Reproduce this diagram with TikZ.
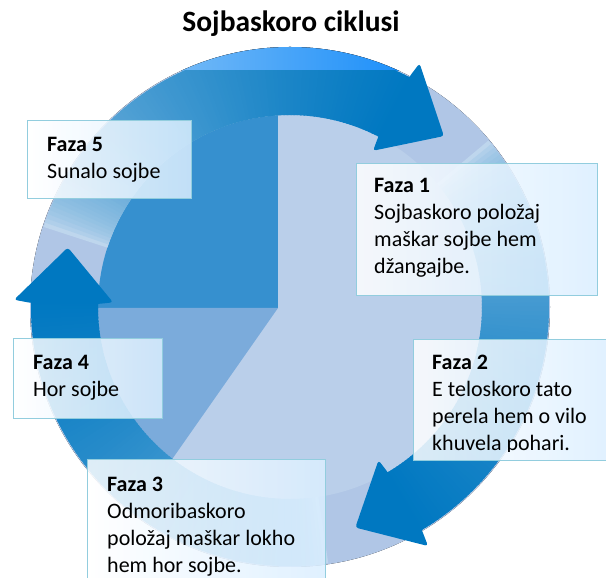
\documentclass[tikz,border=0pt]{standalone}
\usepackage{fontspec}
\setmainfont{Carlito}
\usetikzlibrary{calc}
\definecolor{arrowblue}{RGB}{0,120,193}
\definecolor{piedark}{RGB}{54,144,207}
\definecolor{piemid}{RGB}{123,171,219}
\definecolor{pielight}{RGB}{186,207,234}
\definecolor{ringlight}{RGB}{216,227,243}
\definecolor{ringinner}{RGB}{176,198,230}
\definecolor{ringouter}{RGB}{244,247,252}
\definecolor{ringtopl}{RGB}{112,184,247}
\definecolor{ringtopr}{RGB}{30,144,250}
\definecolor{boxline}{RGB}{146,205,222}
\definecolor{boxfill}{RGB}{218,238,255}
\pgfdeclareradialshading{ringfade}{\pgfpointorigin}{color(0bp)=(ringinner); color(36.9bp)=(ringinner); color(50bp)=(ringouter)}
\tikzset{
  fazabox/.style={shape=rectangle, draw=boxline, line width=1.4pt,
                  left color=white, right color=boxfill, fill opacity=0.85,
                  anchor=north west, inner sep=0pt},
  fazatext/.style={anchor=base west, inner sep=0pt,
                   font=\fontsize{22}{26.7}\selectfont},
  fazahead/.style={fazatext, font=\fontsize{22}{26.7}\selectfont\bfseries}
}

\begin{document}
\begin{tikzpicture}[x=1pt,y=1pt]
	\useasboundingbox (0,0) rectangle (606,578);
	\clip (0,0) rectangle (606,578);
	\coordinate (C) at (290,271);
	\coordinate (apex) at (278,270);

	% ring behind the arrows
	\fill[shading=ringfade] (C) circle (260);
	\begin{scope}
		\clip (C) circle (260);
		\fill[left color=ringtopl, right color=ringtopr] (181,507) rectangle (400,580);
	\end{scope}

	% pie
	\fill[pielight] (C) circle (192);
	\begin{scope}
		\clip (C) circle (192);
		\fill[piedark] (apex) rectangle (0,578);
		\fill[piemid] (apex) -- +(180:400) -- +(235:400) -- cycle;
	\end{scope}

	% arrow bodies, fading from tail to head
	\begin{scope}
		\clip (0,0) rectangle (606,507);
		\foreach \hb in {62,178.5,300}{
			\foreach \k in {0,...,99}{
				\pgfmathsetmacro\a{\hb+100-\k}
				\pgfmathsetmacro\p{100*((\k+0.5)/100)^0.4}
				\fill[arrowblue!\p!ringlight, shift={(C)}]
					(\a:192) arc[start angle=\a, end angle=\a-1.5, radius=192]
					-- (\a-1.5:259) arc[start angle=\a-1.5, end angle=\a, radius=259] -- cycle;
			}
		}
	\end{scope}

	% arrow heads
	\foreach \hb/\ht in {62/48, 178.5/165, 300/286.5}{
		\fill[arrowblue, rounded corners=3pt, shift={(C)}]
			(\hb+0.6:192) -- (\hb:177) -- (\ht:230) -- (\hb:276) -- (\hb+0.6:259) -- cycle;
	}

	% boxes
	\node[fazabox, minimum width=164, minimum height=78] (box5) at (27,458) {};
	\node[fazabox, minimum width=241, minimum height=132] (box1) at (356,415) {};
	\node[fazabox, minimum width=200, minimum height=121] (box2) at (413,239) {};
	\node[fazabox, minimum width=149, minimum height=80] (box4) at (13,240) {};
	\node[fazabox, minimum width=238, minimum height=130] (box3) at (87,119) {};

	% texts
	\node[fazahead] (f5) at (47,426) {Faza 5};
	\node[fazatext] (f5-1) at (47,399.3) {Sunalo sojbe};

	\node[fazahead] (f1) at (374,385) {Faza 1};
	\foreach \line [count=\i] in {Sojbaskoro položaj, maškar sojbe hem, džangajbe.}
		\node[fazatext] (f1-\i) at (374,{385-26.7*\i}) {\line};

	\begin{scope}
		\clip (413,126) rectangle (606,239);
		\node[fazahead] (f2) at (432,208) {Faza 2};
		\foreach \line [count=\i] in {E teloskoro tato, perela hem o vilo, khuvela pohari.}
			\node[fazatext] (f2-\i) at (432,{208-26.7*\i}) {\line};
	\end{scope}

	\node[fazahead] (f4) at (33,208) {Faza 4};
	\node[fazatext] (f4-1) at (33,181.3) {Hor sojbe};

	\node[fazahead] (f3) at (107,86) {Faza 3};
	\foreach \line [count=\i] in {Odmoribaskoro, položaj maškar lokho, hem hor sojbe.}
		\node[fazatext] (f3-\i) at (107,{86-26.7*\i}) {\line};

	% title
	\node[anchor=base, inner sep=0pt, font=\fontsize{29.5}{34}\selectfont\bfseries] (title) at (291,546) {Sojbaskoro ciklusi};
\end{tikzpicture}
\end{document}
